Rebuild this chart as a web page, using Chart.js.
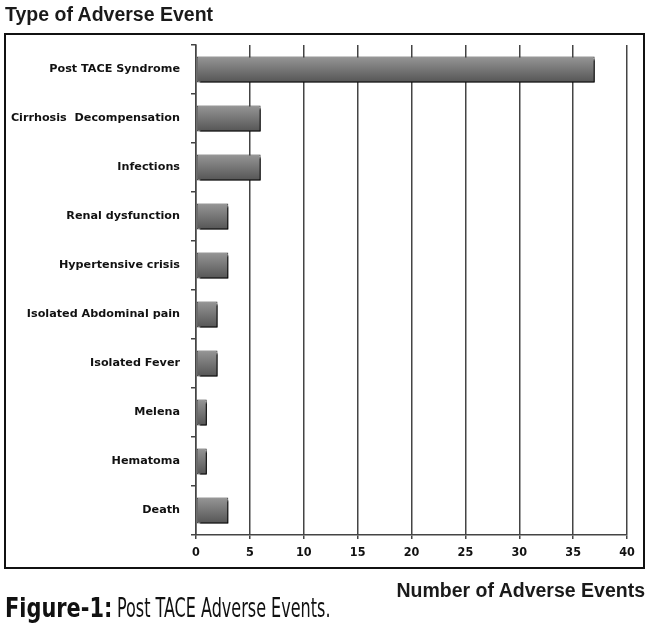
<!DOCTYPE html>
<html>
<head>
<meta charset="utf-8">
<script src="https://cdn.jsdelivr.net/npm/chart.js@4"></script>
<style>
  html, body { margin: 0; padding: 0; background: #fff; }
  #wrap { position: relative; width: 650px; height: 629px; overflow: hidden; }
  #chart { position: absolute; left: 0; top: 0; }
  .txt { position: absolute; white-space: nowrap; color: #1a1a1a; line-height: 1; }
  #title { left: 5px; top: 3px; font: bold 19.5px "Liberation Sans", Arial, sans-serif; }
  #xtitle { right: 5px; top: 579px; font: bold 19.5px "Liberation Sans", Arial, sans-serif; }
  .cap { top: 594px; font-family: "DejaVu Sans Condensed", "DejaVu Sans", sans-serif; font-size: 27px; color: #111;
         transform-origin: left center; }
  #capB { left: 5px; font-weight: bold; transform: scaleX(0.86); }
  #capR { left: 117px; transform: scaleX(0.66); }
  #frame { position: absolute; left: 4px; top: 33px; width: 637px; height: 532px; border: 2px solid #111; }
</style>
</head>
<body>
<div id="wrap">
  <div id="frame"></div>
  <canvas id="chart" width="650" height="629"></canvas>
  <div class="txt" id="title">Type of Adverse Event</div>
  <div class="txt" id="xtitle">Number of Adverse Events</div>
  <div class="txt cap" id="capB">Figure-1:</div>
  <div class="txt cap" id="capR">Post TACE Adverse Events.</div>
</div>
<script>
// 부작용 종류별 건수
const categories = [
  "Post TACE Syndrome",
  "Cirrhosis  Decompensation",
  "Infections",
  "Renal dysfunction",
  "Hypertensive crisis",
  "Isolated Abdominal pain",
  "Isolated Fever",
  "Melena",
  "Hematoma",
  "Death"
];
const counts = [37, 6, 6, 3, 3, 2, 2, 1, 1, 3];
const xTicks = [0, 5, 10, 15, 20, 25, 30, 35, 40];

// 막대마다 위→아래 회색 그라데이션
function barFill(c) {
  const chart = c.chart;
  const y = chart.scales && chart.scales.y;
  if (!chart.chartArea || !y || c.dataIndex === undefined) return "#777";
  const mid = y.getPixelForValue(c.dataIndex);
  const g = chart.ctx.createLinearGradient(0, mid - 13, 0, mid + 13);
  g.addColorStop(0, "#969696");
  g.addColorStop(1, "#555555");
  return g;
}

// 막대 그림자 (오른쪽/아래로 살짝)
const shadow = {
  id: "shadow",
  beforeDatasetsDraw(chart) {
    const ctx = chart.ctx;
    ctx.save();
    ctx.shadowColor = "#000";
    ctx.shadowOffsetX = 3;
    ctx.shadowOffsetY = 3;
    ctx.shadowBlur = 0;
  },
  afterDatasetsDraw(chart) { chart.ctx.restore(); }
};

new Chart(document.getElementById("chart"), {
  type: "bar",
  data: {
    labels: categories,
    datasets: [{
      data: counts,
      backgroundColor: barFill,
      borderColor: "#333",
      borderWidth: 1,
      borderSkipped: false,
      barPercentage: 1,
      categoryPercentage: 0.53
    }]
  },
  options: {
    indexAxis: "y",
    responsive: false,
    animation: false,
    events: [],
    layout: { padding: { left: 0, right: 23, top: 45, bottom: 64 } },
    plugins: { legend: { display: false }, tooltip: { enabled: false } },
    scales: {
      x: {
        min: 0, max: 40,
        afterBuildTicks: s => { s.ticks = xTicks.map(v => ({ value: v })); },
        afterFit: s => { s.height = 30; },
        border: { display: true, color: "#444", width: 1.5 },
        grid: { color: "#444", lineWidth: 1.5, tickLength: 4 },
        ticks: { color: "#111", padding: 6, font: { family: "'DejaVu Sans Condensed', 'DejaVu Sans', sans-serif", size: 12.5, weight: "bold" } }
      },
      y: {
        afterFit: s => { s.width = 196; },
        border: { display: true, color: "#444", width: 1.5 },
        grid: { drawOnChartArea: false, color: "#444", lineWidth: 1.5, tickLength: 5, offset: true },
        ticks: { color: "#111", padding: 11, font: { family: "'DejaVu Sans', sans-serif", size: 11.2, weight: "bold" } }
      }
    }
  },
  plugins: [shadow]
});
</script>
</body>
</html>
